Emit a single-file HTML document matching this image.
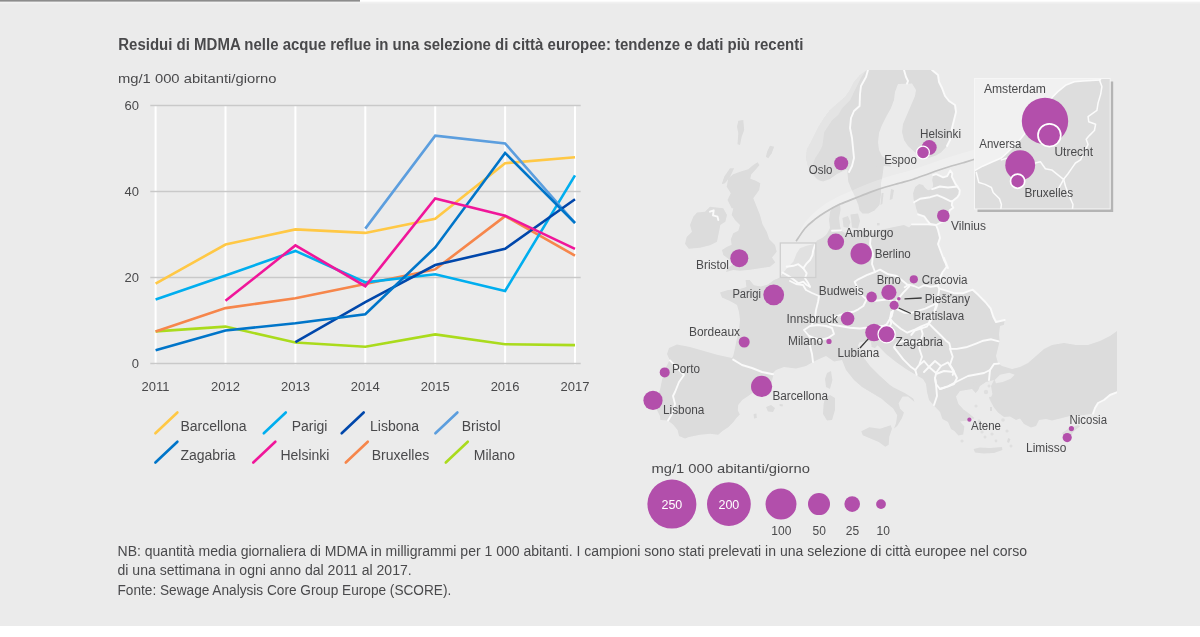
<!DOCTYPE html>
<html lang="it"><head><meta charset="utf-8"><title>Residui di MDMA nelle acque reflue</title>
<style>html,body{margin:0;padding:0;background:#fff;}svg{display:block}text{font-family:"Liberation Sans",Arial,Helvetica,sans-serif;fill:#4a4a4c}.b{font-weight:bold}.lbl{font-size:12.5px}</style></head><body>
<svg width="1200" height="637" viewBox="0 0 1200 637">
<rect x="0" y="0" width="1200" height="626" fill="#ebebeb"/>
<rect x="0" y="0" width="1200" height="3.5" fill="#f1f1f1"/>
<rect x="0" y="0" width="360" height="1.6" fill="#8c8c8c"/>
<rect x="360" y="0" width="840" height="1.6" fill="#ffffff"/>
<defs><filter id="soft" x="0" y="0" width="1200" height="637" filterUnits="userSpaceOnUse"><feGaussianBlur stdDeviation="0.45"/></filter></defs>
<g filter="url(#soft)">
<text class="b" x="118.3" y="49.5" font-size="15.6" textLength="685" lengthAdjust="spacingAndGlyphs">Residui di MDMA nelle acque reflue in una selezione di città europee: tendenze e dati più recenti</text>
<text x="118" y="82.5" font-size="13.5" textLength="158.5" lengthAdjust="spacingAndGlyphs">mg/1 000 abitanti/giorno</text>
<g stroke="#ffffff" stroke-width="2">
<line x1="155.6" y1="106.1" x2="155.6" y2="364.6"/>
<line x1="225.5" y1="106.1" x2="225.5" y2="364.6"/>
<line x1="295.4" y1="106.1" x2="295.4" y2="364.6"/>
<line x1="365.3" y1="106.1" x2="365.3" y2="364.6"/>
<line x1="435.2" y1="106.1" x2="435.2" y2="364.6"/>
<line x1="505.1" y1="106.1" x2="505.1" y2="364.6"/>
<line x1="575.0" y1="106.1" x2="575.0" y2="364.6"/>
</g>
<g stroke="#c9c9c9" stroke-width="1.5">
<line x1="150.3" y1="363.6" x2="580.7" y2="363.6"/>
<line x1="150.3" y1="277.6" x2="580.7" y2="277.6"/>
<line x1="150.3" y1="191.6" x2="580.7" y2="191.6"/>
<line x1="150.3" y1="105.6" x2="580.7" y2="105.6"/>
</g>
<text x="139" y="367.8" font-size="13" text-anchor="end">0</text>
<text x="139" y="281.8" font-size="13" text-anchor="end">20</text>
<text x="139" y="195.8" font-size="13" text-anchor="end">40</text>
<text x="139" y="109.8" font-size="13" text-anchor="end">60</text>
<text x="155.6" y="391.2" font-size="13" text-anchor="middle">2011</text>
<text x="225.5" y="391.2" font-size="13" text-anchor="middle">2012</text>
<text x="295.4" y="391.2" font-size="13" text-anchor="middle">2013</text>
<text x="365.3" y="391.2" font-size="13" text-anchor="middle">2014</text>
<text x="435.2" y="391.2" font-size="13" text-anchor="middle">2015</text>
<text x="505.1" y="391.2" font-size="13" text-anchor="middle">2016</text>
<text x="575.0" y="391.2" font-size="13" text-anchor="middle">2017</text>
<g fill="none" stroke-width="2.6" stroke-linejoin="miter" stroke-linecap="butt">
<polyline stroke="#aadb1e" points="155.6,331.4 225.5,326.6 295.4,342.5 365.3,346.8 435.2,334.4 505.1,344.2 575.0,345.1"/>
<polyline stroke="#f6864b" points="155.6,331.4 225.5,308.1 295.4,298.2 365.3,284.1 435.2,269.4 505.1,216.1 575.0,255.7"/>
<polyline stroke="#ffc845" points="155.6,283.6 225.5,244.5 295.4,229.4 365.3,232.9 435.2,218.7 505.1,163.2 575.0,157.2"/>
<polyline stroke="#00aeef" points="155.6,299.5 225.5,275.5 295.4,250.9 365.3,282.3 435.2,274.2 505.1,290.9 575.0,175.3"/>
<polyline stroke="#5c9ede" points="365.3,228.6 435.2,135.7 505.1,143.4 575.0,223.0"/>
<polyline stroke="#0047ab" points="295.4,342.1 365.3,302.1 435.2,265.1 505.1,248.8 575.0,199.3"/>
<polyline stroke="#0075c9" points="155.6,350.3 225.5,330.5 295.4,323.2 365.3,314.2 435.2,247.5 505.1,152.9 575.0,223.0"/>
<polyline stroke="#f0189a" points="225.5,300.8 295.4,245.4 365.3,286.2 435.2,198.5 505.1,215.7 575.0,248.8"/>
</g>
<line x1="155.4" y1="433.3" x2="177.4" y2="412.5" stroke="#ffc845" stroke-width="2.6" stroke-linecap="round"/>
<text x="180.4" y="430.8" font-size="14">Barcellona</text>
<line x1="263.8" y1="433.3" x2="285.8" y2="412.5" stroke="#00aeef" stroke-width="2.6" stroke-linecap="round"/>
<text x="291.7" y="430.8" font-size="14">Parigi</text>
<line x1="341.7" y1="433.3" x2="363.7" y2="412.5" stroke="#0047ab" stroke-width="2.6" stroke-linecap="round"/>
<text x="370.0" y="430.8" font-size="14">Lisbona</text>
<line x1="435.4" y1="433.3" x2="457.4" y2="412.5" stroke="#5c9ede" stroke-width="2.6" stroke-linecap="round"/>
<text x="461.7" y="430.8" font-size="14">Bristol</text>
<line x1="155.4" y1="462.5" x2="177.4" y2="441.7" stroke="#0075c9" stroke-width="2.6" stroke-linecap="round"/>
<text x="180.4" y="460.0" font-size="14">Zagabria</text>
<line x1="253.3" y1="462.5" x2="275.3" y2="441.7" stroke="#f0189a" stroke-width="2.6" stroke-linecap="round"/>
<text x="280.4" y="460.0" font-size="14">Helsinki</text>
<line x1="345.8" y1="462.5" x2="367.8" y2="441.7" stroke="#f6864b" stroke-width="2.6" stroke-linecap="round"/>
<text x="371.7" y="460.0" font-size="14">Bruxelles</text>
<line x1="445.8" y1="462.5" x2="467.8" y2="441.7" stroke="#aadb1e" stroke-width="2.6" stroke-linecap="round"/>
<text x="473.8" y="460.0" font-size="14">Milano</text>
<text x="117.5" y="555.5" font-size="14" textLength="909.5" lengthAdjust="spacingAndGlyphs">NB: quantità media giornaliera di MDMA in milligrammi per 1 000 abitanti. I campioni sono stati prelevati in una selezione di città europee nel corso</text>
<text x="117.5" y="575.3" font-size="14" textLength="294.2" lengthAdjust="spacingAndGlyphs">di una settimana in ogni anno dal 2011 al 2017.</text>
<text x="117.5" y="595" font-size="14" textLength="333.8" lengthAdjust="spacingAndGlyphs">Fonte: Sewage Analysis Core Group Europe (SCORE).</text>
<!--MAP-->
<g id="map">
<clipPath id="mapclip"><rect x="630" y="70" width="487" height="400"/></clipPath>
<g clip-path="url(#mapclip)">
<g fill="#dcdcdc" stroke="none">
<polygon points="710.0,206.7 723.3,208.3 727.0,215.0 725.3,221.7 720.3,225.0 718.7,233.3 717.0,241.7 710.0,245.3 700.0,247.8 688.7,248.7 685.0,243.7 686.7,237.0 692.0,231.7 690.0,225.0 693.3,216.7 697.0,212.5 705.0,211.7"/>
<polygon points="733.3,174.2 740.0,171.7 748.3,169.2 753.3,165.0 757.5,162.3 759.5,165.0 755.3,170.0 751.3,174.2 750.3,178.7 755.8,180.8 760.3,183.3 759.2,190.0 753.3,198.3 756.7,206.7 760.0,215.0 762.5,224.2 766.7,231.7 769.2,239.2 775.0,245.0 776.7,251.7 772.0,257.5 775.3,262.5 770.0,266.7 760.0,268.3 750.0,269.7 740.0,270.7 733.3,270.0 725.8,272.0 728.3,267.5 733.3,264.2 730.0,260.0 723.3,255.0 722.0,250.0 726.7,247.0 731.7,244.7 730.8,239.2 733.3,233.3 738.3,230.8 740.0,225.0 735.0,220.0 731.7,215.0 733.3,208.3 731.7,208.3 727.5,200.0 730.8,193.3 726.7,186.7 728.3,178.3"/>
<polygon points="738.3,120.8 743.3,120.0 744.2,130.0 741.7,136.7 740.0,145.0 737.5,144.2 738.3,133.3 737.0,126.7"/>
<polygon points="770.0,145.8 774.2,146.7 771.7,153.3 768.3,158.3 765.8,156.7 767.5,150.8"/>
<polygon points="730.0,168.3 734.2,168.3 730.0,176.7 725.0,183.3 721.7,184.2 724.2,176.7"/>
<polygon points="867.0,70.0 860.0,75.0 854.0,82.0 850.0,90.0 845.0,97.0 838.0,103.0 830.0,110.0 824.0,118.0 819.0,126.0 815.0,134.0 811.0,142.0 807.0,149.0 806.0,158.0 808.0,166.0 812.0,174.0 818.0,180.0 823.0,181.6 830.0,179.0 837.0,174.0 843.0,171.0 847.4,169.6 847.5,173.3 848.3,181.7 851.7,190.0 855.0,196.7 858.4,205.1 859.4,210.2 862.4,213.5 868.4,213.5 874.5,210.5 879.5,205.1 881.0,195.0 881.0,183.3 882.5,175.8 884.0,164.0 886.4,159.6 882.0,156.0 879.0,150.0 878.0,142.0 879.0,133.0 882.0,125.0 886.0,117.0 891.0,108.0 894.0,100.0 895.0,92.0 898.0,84.0 912.0,83.6 916.0,90.0 915.0,96.0 912.0,103.0 909.0,110.0 906.0,117.0 903.0,124.0 902.0,132.0 904.0,140.0 908.0,146.0 914.0,151.6 920.0,156.0 928.0,158.0 936.0,155.6 941.0,152.4 947.0,146.0 950.0,140.0 952.0,128.0 954.0,120.0 956.0,112.0 955.0,105.0 949.0,101.0 945.0,96.0 942.0,88.0 939.0,82.0 938.0,75.0 932.0,70.0"/>
<polygon points="875.0,164.0 882.0,163.0 890.0,164.4 891.0,166.4 884.0,166.0 876.0,166.4"/>
<polygon points="842.4,218.0 848.0,216.0 850.4,222.0 848.4,228.0 843.6,227.0"/>
<polygon points="850.4,214.4 858.0,213.6 860.0,221.0 858.0,228.4 852.0,227.6 851.2,220.0"/>
<polygon points="881.6,193.0 883.6,193.0 882.4,204.0 880.4,205.0"/>
<polygon points="891.0,189.0 894.0,190.0 892.4,199.0 889.6,200.0"/>
<polygon points="877.0,223.0 879.6,223.0 879.6,225.4 877.0,225.4"/>
<polygon points="766.0,407.0 771.0,405.0 775.0,408.0 773.0,412.0 768.0,411.6"/>
<polygon points="779.6,404.0 783.0,404.4 782.4,406.4 779.6,406.0"/>
<polygon points="753.6,414.0 756.4,413.6 756.8,418.0 754.0,418.4"/>
<polygon points="827.0,373.0 831.0,371.0 832.4,380.0 830.0,389.0 826.0,387.0 825.0,379.0"/>
<polygon points="825.0,398.0 830.0,395.0 835.0,398.0 835.0,410.0 832.0,420.0 827.0,420.4 823.0,414.0 823.6,404.0"/>
<polygon points="861.3,431.3 869.3,427.3 880.0,428.7 890.7,425.3 892.0,428.7 889.3,436.7 888.7,444.7 885.3,446.7 878.7,442.0 869.3,438.0 862.7,435.3"/>
<polygon points="973.6,449.0 980.0,447.6 990.0,448.0 1002.0,447.0 1002.4,450.0 994.0,453.0 984.0,453.6 975.0,452.4"/>
<polygon points="1062.0,433.0 1068.0,429.0 1078.0,425.0 1080.0,426.4 1074.0,431.0 1070.0,437.0 1065.0,437.0"/>
<polygon points="1008.0,438.0 1010.4,439.0 1009.0,443.0 1007.0,442.0"/>
<polygon points="964.4,410.0 969.0,413.6 974.4,418.0 973.0,419.0 967.6,415.6 963.6,411.6"/>
<polygon points="989.0,397.0 993.0,396.4 993.6,399.0 989.6,399.6"/>
<polygon points="990.0,407.0 992.0,407.0 992.0,411.0 990.0,411.0"/>
<polygon points="948.0,268.0 944.0,260.0 941.0,252.0 938.0,244.0 940.0,238.0 938.0,230.0 936.0,225.0 942.0,222.0 948.0,216.0 949.7,210.3 953.3,207.7 951.8,205.2 952.3,201.2 957.3,197.2 959.3,194.2 959.8,190.2 955.3,183.6 951.8,176.6 952.3,173.6 950.3,170.4 947.2,176.1 943.2,177.3 936.2,174.1 933.2,175.1 932.2,180.1 933.2,185.1 932.2,189.1 928.1,190.2 925.1,188.1 923.1,185.1 919.1,184.1 915.1,187.1 913.1,193.2 913.6,199.2 915.1,203.2 916.1,208.2 918.1,214.3 924.1,216.3 927.1,220.3 930.2,224.0 936.0,225.0 928.0,224.4 912.0,224.4 909.0,227.4 904.0,225.0 894.0,227.0 880.0,230.0 871.0,234.0 866.0,232.0 860.0,230.0 854.0,233.0 847.0,234.0 841.4,231.0 840.0,226.0 839.0,218.0 840.6,210.0 840.0,203.0 837.0,204.4 833.0,207.0 830.0,212.0 829.0,220.0 830.0,228.0 828.0,232.0 826.0,235.0 822.0,238.0 817.0,240.4 815.0,243.7 806.7,245.8 800.0,248.3 796.7,253.3 793.3,261.7 788.3,266.7 783.3,272.5 780.0,277.6 774.0,280.0 768.0,284.4 761.0,286.4 754.0,285.2 749.6,280.0 745.6,280.0 746.4,287.0 740.0,289.0 728.0,290.0 720.0,292.4 722.0,297.6 730.0,301.0 737.0,305.0 739.0,312.0 740.0,320.0 739.0,330.0 737.0,338.0 735.0,348.0 733.2,356.0 732.0,358.0 718.0,355.0 704.0,351.0 690.0,347.0 677.0,344.4 669.0,348.0 667.0,354.0 669.6,360.0 665.6,368.0 662.0,380.0 660.0,390.0 655.6,398.0 657.0,410.0 660.0,416.0 660.4,420.0 668.0,420.4 673.0,424.4 677.6,430.0 679.0,436.0 685.0,438.4 689.0,437.0 700.0,434.8 710.2,433.8 718.2,434.8 722.2,431.2 728.2,427.2 733.2,422.2 736.2,418.2 739.8,414.6 737.8,410.2 738.2,405.0 742.2,400.0 748.2,396.0 752.4,393.0 762.0,390.0 771.0,384.0 773.6,374.4 770.4,375.6 776.0,370.0 784.0,367.0 796.0,368.4 806.0,366.0 813.0,362.0 818.0,359.6 826.0,356.0 834.0,361.6 842.0,360.0 846.0,370.0 854.0,380.0 862.0,387.0 872.0,393.0 882.0,399.0 885.2,402.0 893.2,408.6 897.2,415.2 896.0,423.2 894.0,428.6 897.2,426.0 902.0,418.0 904.0,412.6 900.0,408.6 898.6,403.2 902.6,396.6 908.0,396.6 914.6,402.0 913.2,398.6 905.2,393.2 893.2,387.2 890.0,385.0 880.0,376.0 870.0,366.0 864.0,358.0 861.0,351.0 860.0,350.0 858.0,345.6 859.4,342.4 866.0,341.0 871.0,341.6 871.6,347.0 875.0,348.0 877.6,345.2 886.0,354.0 896.0,362.0 906.0,369.0 916.0,375.0 923.0,379.0 926.0,384.0 927.0,392.0 929.0,400.0 933.0,404.4 940.0,412.0 942.4,419.0 948.0,422.0 951.0,429.0 954.4,431.0 958.4,435.6 963.2,434.4 964.4,426.4 960.0,421.6 968.0,420.4 972.4,419.0 968.0,415.0 964.0,410.0 958.4,404.0 956.0,396.4 960.0,391.0 966.0,390.0 972.0,389.0 975.6,393.0 978.0,390.6 980.0,386.0 986.0,382.0 994.0,380.0 994.0,380.0 991.0,386.0 992.4,394.0 990.0,400.0 993.6,407.0 998.0,412.4 1004.0,417.0 1010.0,416.4 1016.0,420.0 1020.0,418.4 1024.0,424.0 1031.0,427.6 1036.0,426.0 1039.0,420.0 1046.0,419.0 1052.0,420.4 1062.0,418.0 1072.0,415.4 1084.0,415.0 1093.0,413.6 1095.0,408.0 1098.0,403.0 1104.0,400.0 1110.0,395.0 1117.6,392.0 1117.0,331.0 1110.0,336.0 1100.0,341.0 1088.0,345.0 1076.0,345.0 1064.0,343.0 1052.0,345.0 1044.0,349.0 1036.0,356.0 1028.0,363.0 1020.0,367.0 1012.0,369.0 1002.0,366.0 998.0,363.0 996.0,356.0 998.0,348.0 999.6,341.0 999.0,334.0 1000.0,326.0 1004.0,324.7 1004.7,320.0 996.0,322.0 993.3,316.7 990.7,308.7 985.3,302.0 978.7,295.3 972.7,289.7 968.0,291.3 962.7,293.3 954.7,293.3 945.3,290.3 939.3,288.7 937.6,285.7 939.3,278.7 942.7,272.0 946.7,266.7 944.0,258.0 939.3,250.0"/>
</g>
<g fill="#dcdcdc" fill-opacity="0.8">
<circle cx="975.0" cy="428.0" r="2.0"/>
<circle cx="982.0" cy="432.0" r="1.6"/>
<circle cx="988.0" cy="427.0" r="1.8"/>
<circle cx="985.0" cy="437.0" r="1.5"/>
<circle cx="992.0" cy="434.0" r="1.6"/>
<circle cx="976.0" cy="406.0" r="1.6"/>
<circle cx="986.0" cy="392.0" r="2.2"/>
<circle cx="1003.0" cy="420.0" r="1.8"/>
<circle cx="1007.0" cy="431.0" r="1.6"/>
<circle cx="975.0" cy="384.0" r="1.8"/>
<circle cx="989.0" cy="386.0" r="1.5"/>
<circle cx="962.0" cy="441.0" r="1.6"/>
<circle cx="1011.0" cy="446.0" r="1.5"/>
<circle cx="979.0" cy="421.0" r="1.4"/>
<circle cx="996.0" cy="441.0" r="1.4"/>
</g>
<g fill="#ebebeb" stroke="none">
<polygon points="994.7,380.0 1000.0,374.7 1009.3,372.7 1014.7,374.7 1010.7,378.7 1002.7,382.0 996.0,383.3"/>
</g>
<g fill="#ebebeb" fill-opacity="0.55" stroke="none">
<polygon points="867.0,70.0 860.0,75.0 854.0,82.0 850.0,90.0 845.0,97.0 838.0,103.0 830.0,110.0 824.0,118.0 819.0,126.0 815.0,134.0 811.0,142.0 807.0,149.0 806.0,158.0 808.0,166.0 812.0,174.0 818.0,180.0 823.0,181.6 822.0,181.6 816.0,178.0 812.0,172.0 813.0,164.0 815.1,158.3 819.1,152.3 822.2,146.2 823.2,140.2 824.2,132.2 828.2,126.1 832.2,120.1 838.2,115.1 842.3,108.0 850.3,100.0 853.0,94.0 857.0,86.0 861.0,78.0 866.0,70.0"/>
</g>
<g fill="none" stroke="#fafafa" stroke-width="1.9" stroke-linejoin="round" stroke-linecap="round">
<polyline points="710.0,211.7 713.7,210.3 713.0,215.3 717.5,216.7 718.3,220.0"/>
<polyline points="868.0,70.0 866.0,77.0 861.0,86.0 860.0,94.0 859.6,106.0 854.0,111.0 851.0,118.0 850.0,128.0 852.0,138.0 853.0,148.0 854.0,158.0 852.0,166.0 849.0,172.0"/>
<polyline points="904.0,70.0 906.0,77.0 908.0,81.0 907.0,83.6"/>
<polyline points="932.2,189.1 940.0,186.5 948.0,187.5 957.5,186.5"/>
<polyline points="914.1,202.2 920.1,198.7 930.2,197.2 937.2,195.2 943.2,197.7 950.3,201.2 952.3,201.2"/>
<polyline points="871.0,234.0 870.0,244.0 873.0,254.0 872.0,264.0 875.0,272.0"/>
<polyline points="832.0,230.8 841.0,230.4"/>
<polyline points="733.2,359.6 742.0,365.0 752.0,368.0 762.0,372.0 773.0,374.2"/>
<polyline points="670.0,360.4 684.0,375.0 679.0,382.0 675.0,392.0 673.0,396.0 675.0,404.0 672.0,414.0 668.0,420.4"/>
<polyline points="813.0,362.0 812.0,354.0 810.0,346.0 812.0,340.0 809.0,336.0"/>
<polyline points="804.0,330.0 810.0,326.0 818.0,325.0 826.0,326.0 832.0,328.0 834.0,334.0 828.0,338.0 820.0,340.0 814.0,338.0 809.0,336.0 804.0,330.0"/>
<polyline points="790.0,281.0 796.0,284.0 803.0,285.0 806.0,290.0 812.0,293.0 819.0,296.0 818.0,302.0 816.0,310.0 815.0,318.0 812.0,324.4"/>
<polyline points="937.6,285.7 930.7,286.7 924.0,285.3 918.7,288.0 914.0,286.0 908.7,284.7 904.7,287.3"/>
<polyline points="939.3,289.3 936.7,303.3 932.0,319.3 926.7,326.7 914.7,330.7 911.3,334.9"/>
<polyline points="936.7,303.3 925.3,308.7 912.0,312.7 904.0,312.7 896.0,308.7"/>
<polyline points="928.7,323.3 920.7,326.7 914.0,330.0 907.3,332.7 900.7,328.7 894.0,323.3 890.0,318.7 891.3,312.0"/>
<polyline points="937.3,304.7 935.3,310.0 931.3,316.7 928.7,323.3"/>
<polyline points="928.7,323.3 935.3,330.0 940.7,335.3 946.0,340.7 949.3,343.3 950.7,348.7 956.7,348.9 966.0,347.3 976.7,343.3 983.3,340.7 991.3,339.3 998.7,341.3"/>
<polyline points="950.0,348.7 952.7,356.7 950.0,364.7 954.0,371.3 952.7,374.9"/>
<polyline points="920.7,327.1 922.7,334.0 920.7,340.7 919.3,348.7 922.0,356.7 919.3,364.7 915.3,370.0"/>
<polyline points="920.7,340.7 914.0,342.3 903.3,340.9 896.7,343.3 894.0,347.3 903.3,359.3 911.3,367.3 915.3,370.0 916.7,374.9"/>
<polyline points="890.0,318.7 891.3,323.3 888.7,328.7"/>
<polyline points="929.0,367.0 935.0,361.0 941.0,366.0 936.0,373.0 929.0,367.0"/>
<polyline points="936.0,374.0 944.0,371.0 954.0,372.0 957.0,378.0 954.0,384.0 948.0,386.4 940.0,389.0 936.0,384.0 935.0,378.0 936.0,374.0"/>
<polyline points="920.0,364.4 924.0,361.0 929.0,367.0 924.0,372.0"/>
<polyline points="935.0,378.0 936.0,384.0 937.0,396.0 934.0,405.0"/>
<polyline points="940.0,389.0 948.0,386.4 956.0,382.0 968.0,376.0 984.0,373.0 990.0,370.0 989.0,380.0"/>
<polyline points="990.0,370.0 994.0,364.0 999.0,363.6"/>
<polyline points="941.0,366.0 948.0,362.4 954.0,372.0"/>
<polyline points="875.0,272.0 880.0,269.7 888.3,274.3 896.7,276.0 905.0,282.7 909.2,286.3"/>
<polyline points="875.0,272.0 866.7,275.2 858.3,279.3 854.7,281.8 858.3,290.2 863.3,296.8 866.7,299.3"/>
<polyline points="866.7,299.3 873.3,301.0 880.0,300.2 888.3,299.3 895.0,301.8"/>
<polyline points="909.2,286.3 903.3,292.7 899.2,297.7 895.8,301.8"/>
<polyline points="866.7,299.3 863.3,306.0 858.3,309.3 853.3,311.8 846.7,312.7 835.0,316.8 826.7,317.7"/>
<polyline points="826.7,317.7 830.0,324.3 840.0,326.0 850.0,327.7 860.0,328.5 873.3,326.8 883.3,326.0 886.7,324.3 891.7,316.0 893.3,309.3 895.0,302.7"/>
<polyline points="786.7,266.7 793.3,265.8 798.3,264.2 803.3,268.3"/>
<polyline points="803.3,268.3 806.7,263.3 810.0,260.0 812.5,255.0 813.3,250.0 815.0,245.0"/>
<polyline points="803.3,268.3 806.7,273.3 805.0,278.3 808.3,283.3 810.0,286.7"/>
<polyline points="782.5,272.5 788.3,275.8 793.3,279.2 798.3,283.3 803.3,281.7 806.7,285.0 810.0,286.7"/>
<polyline points="947.0,146.0 950.0,140.0 952.0,128.0 954.0,120.0 956.0,112.0 955.0,105.0 949.0,101.0 945.0,96.0 942.0,88.0 939.0,82.0 938.0,75.0 932.0,70.0"/>
<polyline points="933.2,175.1 936.2,174.1 943.2,177.3 947.2,176.1 950.3,170.4 952.3,173.6 951.8,176.6 955.3,183.6 959.8,190.2 959.3,194.2 957.3,197.2 952.3,201.2 951.8,205.2 953.3,207.7 949.7,210.3 948.0,216.0 942.0,222.0 936.0,225.0 938.0,230.0 940.0,238.0 938.0,244.0 941.0,252.0 944.0,260.0 948.0,268.0 944.0,258.0 946.7,266.7 942.7,272.0 939.3,278.7 937.6,285.7 939.3,288.7 945.3,290.3 954.7,293.3 962.7,293.3 968.0,291.3 972.7,289.7 978.7,295.3 985.3,302.0 990.7,308.7 993.3,316.7 996.0,322.0 1004.7,320.0"/>
<polyline points="918.1,214.3 924.1,216.3 927.1,220.3 930.2,224.0 936.0,225.0 928.0,224.4 912.0,224.4"/>
<polyline points="1093.0,413.6 1095.0,408.0 1098.0,403.0 1104.0,400.0 1110.0,395.0 1117.6,392.0"/>
</g>
</g>
</g>
<path d="M796.1,241.3 C797.6,239.1 801.9,231.9 805.1,228.2 C808.3,224.5 811.9,221.9 815.2,219.2 C818.6,216.5 821.0,214.7 825.2,212.2 C829.4,209.7 835.3,206.4 840.3,204.1 C845.3,201.8 850.4,200.1 855.4,198.1 C860.4,196.1 865.5,193.9 870.5,192.1 C875.5,190.2 880.6,188.5 885.5,187.0 C890.4,185.5 895.4,184.3 900.0,183.0 C904.6,181.7 908.3,180.8 913.3,179.2 C918.3,177.6 924.4,175.1 930.0,173.2 C935.6,171.2 941.2,169.2 946.7,167.5 C952.2,165.8 958.7,164.1 963.3,162.7 C967.9,161.3 972.6,159.9 974.5,159.3 L974.5,149.5 C969.9,150.9 956.9,154.7 946.7,158.0 C936.5,161.3 923.5,166.2 913.3,169.5 C903.1,172.8 895.1,174.2 885.5,177.5 C875.9,180.8 865.4,184.6 855.4,189.0 C845.4,193.4 833.6,198.4 825.2,204.0 C816.8,209.6 810.0,216.3 805.1,222.5 C800.2,228.7 797.6,238.2 796.1,241.3 Z" fill="#ffffff" fill-opacity="0.22"/>
<path d="M796.1,241.3 C797.6,239.1 801.9,231.9 805.1,228.2 C808.3,224.5 811.9,221.9 815.2,219.2 C818.6,216.5 821.0,214.7 825.2,212.2 C829.4,209.7 835.3,206.4 840.3,204.1 C845.3,201.8 850.4,200.1 855.4,198.1 C860.4,196.1 865.5,193.9 870.5,192.1 C875.5,190.2 880.6,188.5 885.5,187.0 C890.4,185.5 895.4,184.3 900.0,183.0 C904.6,181.7 908.3,180.8 913.3,179.2 C918.3,177.6 924.4,175.1 930.0,173.2 C935.6,171.2 941.2,169.2 946.7,167.5 C952.2,165.8 958.7,164.1 963.3,162.7 C967.9,161.3 972.6,159.9 974.5,159.3" fill="none" stroke="#c2c2c2" stroke-width="1.7"/>
<rect x="780.3" y="243" width="35.5" height="34.5" fill="#ffffff" fill-opacity="0.15" stroke="#cfcfcf" stroke-width="1.3"/>
<rect x="977.5" y="81.5" width="135.7" height="130.5" fill="#b4b4b4"/>
<rect x="974.5" y="78.5" width="135.7" height="130.5" fill="#f1f1f1"/>
<clipPath id="insclip"><rect x="974.5" y="78.5" width="135.7" height="130.5"/></clipPath>
<g clip-path="url(#insclip)">
<polygon points="973.8,171.2 982.6,166.2 992.6,161.8 1001.4,158.0 1007.7,152.3 1012.7,147.3 1020.3,139.3 1030.3,126.8 1040.4,112.9 1052.9,96.6 1057.9,91.6 1065.5,85.3 1074.3,81.8 1083.1,80.9 1100.0,80.0 1101.3,77.8 1110.2,78.5 1110.2,209.0 974.5,209.0" fill="#dddddd"/>
<g fill="none" stroke="#fbfbfb" stroke-width="1.5" stroke-linejoin="round" stroke-linecap="round">
<polyline points="973.8,171.2 982.6,166.2 992.6,161.8 1001.4,158.0 1007.7,152.3 1012.7,147.3 1020.3,139.3 1030.3,126.8 1040.4,112.9 1052.9,96.6 1057.9,91.6 1065.5,85.3 1074.3,81.8 1083.1,80.9 1100.0,80.0 1101.3,77.8"/>
<polyline points="1099.4,79.7 1101.9,86.6 1100.7,94.1 1098.1,102.9 1096.9,110.4 1088.1,116.7 1088.7,121.7 1095.6,124.3 1094.4,130.5 1089.3,135.6 1086.2,139.3 1088.1,144.4 1085.6,149.4 1083.1,154.0 1080.6,159.9 1075.5,163.0 1072.4,167.4 1068.0,173.7 1063.6,179.3"/>
<polyline points="1001.4,159.9 1007.7,158.0 1020.3,161.1 1035.3,163.0 1040.4,161.8 1045.4,168.7 1051.7,169.9 1057.9,174.9 1063.6,179.3"/>
<polyline points="1063.6,179.3 1065.5,186.3 1067.4,191.3 1070.5,198.8 1073.0,204.5 1072.4,209.5"/>
<polyline points="976.3,172.4 978.8,182.5 985.1,184.4 991.4,187.5 993.2,192.5 999.5,198.8 1001.4,204.5 1000.8,209.5"/>
<polyline points="1063.6,179.3 1059.8,186.3 1056.7,191.3"/>
</g></g>
<rect x="974.5" y="78.5" width="135.7" height="130.5" fill="none" stroke="#f6f6f6" stroke-width="1"/>
<g stroke="#3a3a3a" stroke-width="1.3">
<line x1="904.5" y1="298.8" x2="921.7" y2="298"/>
<line x1="898.7" y1="308" x2="910.8" y2="313.5"/>
<line x1="869.6" y1="337.4" x2="860" y2="348"/>
</g>
<circle cx="841.2" cy="163.3" r="7.0" fill="#b34fab"/>
<circle cx="929.2" cy="147.5" r="7.5" fill="#b34fab"/>
<circle cx="923.0" cy="152.5" r="6.4" fill="#b34fab" stroke="#fff" stroke-width="1.2"/>
<circle cx="943.3" cy="215.8" r="6.3" fill="#b34fab"/>
<circle cx="835.8" cy="241.8" r="8.3" fill="#b34fab"/>
<circle cx="861.2" cy="253.8" r="10.7" fill="#b34fab"/>
<circle cx="739.3" cy="258.2" r="9.0" fill="#b34fab"/>
<circle cx="773.7" cy="294.8" r="10.4" fill="#b34fab"/>
<circle cx="744.2" cy="342.0" r="5.5" fill="#b34fab"/>
<circle cx="664.7" cy="372.4" r="5.0" fill="#b34fab"/>
<circle cx="653.0" cy="400.4" r="9.6" fill="#b34fab"/>
<circle cx="761.6" cy="386.4" r="10.6" fill="#b34fab"/>
<circle cx="829.0" cy="341.4" r="2.6" fill="#b34fab"/>
<circle cx="847.6" cy="318.6" r="6.8" fill="#b34fab"/>
<circle cx="874.0" cy="332.5" r="8.8" fill="#b34fab"/>
<circle cx="886.6" cy="334.3" r="8.6" fill="#b34fab" stroke="#fff" stroke-width="1.2"/>
<circle cx="871.6" cy="296.9" r="5.3" fill="#b34fab"/>
<circle cx="888.9" cy="292.4" r="7.6" fill="#b34fab"/>
<circle cx="898.8" cy="298.8" r="1.8" fill="#b34fab"/>
<circle cx="894.1" cy="305.2" r="4.5" fill="#b34fab"/>
<circle cx="913.8" cy="279.3" r="4.1" fill="#b34fab"/>
<circle cx="969.4" cy="419.7" r="2.1" fill="#b34fab"/>
<circle cx="1071.4" cy="428.6" r="2.6" fill="#b34fab"/>
<circle cx="1067.2" cy="437.6" r="4.6" fill="#b34fab"/>
<circle cx="1045.0" cy="121.0" r="23.2" fill="#b34fab"/>
<circle cx="1049.4" cy="135.2" r="11.4" fill="#b34fab" stroke="#fff" stroke-width="1.7"/>
<circle cx="1020.2" cy="165.2" r="14.9" fill="#b34fab"/>
<circle cx="1017.6" cy="181.2" r="7.1" fill="#b34fab" stroke="#fff" stroke-width="1.7"/>
<text x="808.8" y="174.2" font-size="12" textLength="23.7" lengthAdjust="spacingAndGlyphs">Oslo</text>
<text x="920.0" y="137.6" font-size="12" textLength="41.0" lengthAdjust="spacingAndGlyphs">Helsinki</text>
<text x="884.2" y="163.6" font-size="12" textLength="32.6" lengthAdjust="spacingAndGlyphs">Espoo</text>
<text x="951.0" y="229.5" font-size="12" textLength="35.0" lengthAdjust="spacingAndGlyphs">Vilnius</text>
<text x="845.0" y="236.8" font-size="12" textLength="48.5" lengthAdjust="spacingAndGlyphs">Amburgo</text>
<text x="874.7" y="258.0" font-size="12" textLength="36.1" lengthAdjust="spacingAndGlyphs">Berlino</text>
<text x="696.0" y="269.4" font-size="12" textLength="33.0" lengthAdjust="spacingAndGlyphs">Bristol</text>
<text x="732.4" y="298.0" font-size="12" textLength="28.6" lengthAdjust="spacingAndGlyphs">Parigi</text>
<text x="689.0" y="335.6" font-size="12" textLength="51.0" lengthAdjust="spacingAndGlyphs">Bordeaux</text>
<text x="672.0" y="373.0" font-size="12" textLength="28.0" lengthAdjust="spacingAndGlyphs">Porto</text>
<text x="663.0" y="413.6" font-size="12" textLength="41.4" lengthAdjust="spacingAndGlyphs">Lisbona</text>
<text x="772.4" y="400.0" font-size="12" textLength="55.6" lengthAdjust="spacingAndGlyphs">Barcellona</text>
<text x="788.0" y="345.4" font-size="12" textLength="35.0" lengthAdjust="spacingAndGlyphs">Milano</text>
<text x="786.5" y="322.6" font-size="12" textLength="51.5" lengthAdjust="spacingAndGlyphs">Innsbruck</text>
<text x="837.6" y="357.0" font-size="12" textLength="41.6" lengthAdjust="spacingAndGlyphs">Lubiana</text>
<text x="895.6" y="346.0" font-size="12" textLength="47.4" lengthAdjust="spacingAndGlyphs">Zagabria</text>
<text x="818.8" y="295.0" font-size="12" textLength="44.8" lengthAdjust="spacingAndGlyphs">Budweis</text>
<text x="876.7" y="283.5" font-size="12" textLength="24.1" lengthAdjust="spacingAndGlyphs">Brno</text>
<text x="921.7" y="283.5" font-size="12" textLength="45.8" lengthAdjust="spacingAndGlyphs">Cracovia</text>
<text x="924.7" y="302.7" font-size="12" textLength="45.3" lengthAdjust="spacingAndGlyphs">Piešťany</text>
<text x="913.5" y="320.1" font-size="12" textLength="50.8" lengthAdjust="spacingAndGlyphs">Bratislava</text>
<text x="971.0" y="430.4" font-size="12" textLength="30.0" lengthAdjust="spacingAndGlyphs">Atene</text>
<text x="1069.6" y="424.4" font-size="12" textLength="37.4" lengthAdjust="spacingAndGlyphs">Nicosia</text>
<text x="1026.0" y="452.0" font-size="12" textLength="40.4" lengthAdjust="spacingAndGlyphs">Limisso</text>
<text x="983.9" y="92.8" font-size="12" textLength="62.1" lengthAdjust="spacingAndGlyphs">Amsterdam</text>
<text x="1054.4" y="156.0" font-size="12" textLength="38.7" lengthAdjust="spacingAndGlyphs">Utrecht</text>
<text x="979.3" y="148.0" font-size="12" textLength="42.1" lengthAdjust="spacingAndGlyphs">Anversa</text>
<text x="1024.4" y="196.8" font-size="12" textLength="48.7" lengthAdjust="spacingAndGlyphs">Bruxelles</text>
<text x="651.4" y="473" font-size="13.5" textLength="158.5" lengthAdjust="spacingAndGlyphs">mg/1 000 abitanti/giorno</text>
<circle cx="671.9" cy="504.1" r="24.5" fill="#b24fab"/>
<text x="671.9" y="508.8" font-size="12.5" text-anchor="middle" style="fill:#fff">250</text>
<circle cx="728.9" cy="504.1" r="21.9" fill="#b24fab"/>
<text x="728.9" y="508.8" font-size="12.5" text-anchor="middle" style="fill:#fff">200</text>
<circle cx="781.0" cy="504.1" r="15.5" fill="#b24fab"/>
<text x="781.3" y="535" font-size="12" text-anchor="middle">100</text>
<circle cx="819.0" cy="504.1" r="11.0" fill="#b24fab"/>
<text x="819.3" y="535" font-size="12" text-anchor="middle">50</text>
<circle cx="852.2" cy="504.1" r="7.8" fill="#b24fab"/>
<text x="852.5" y="535" font-size="12" text-anchor="middle">25</text>
<circle cx="881.0" cy="504.1" r="4.9" fill="#b24fab"/>
<text x="883.2" y="535" font-size="12" text-anchor="middle">10</text>
</g>
</svg></body></html>
